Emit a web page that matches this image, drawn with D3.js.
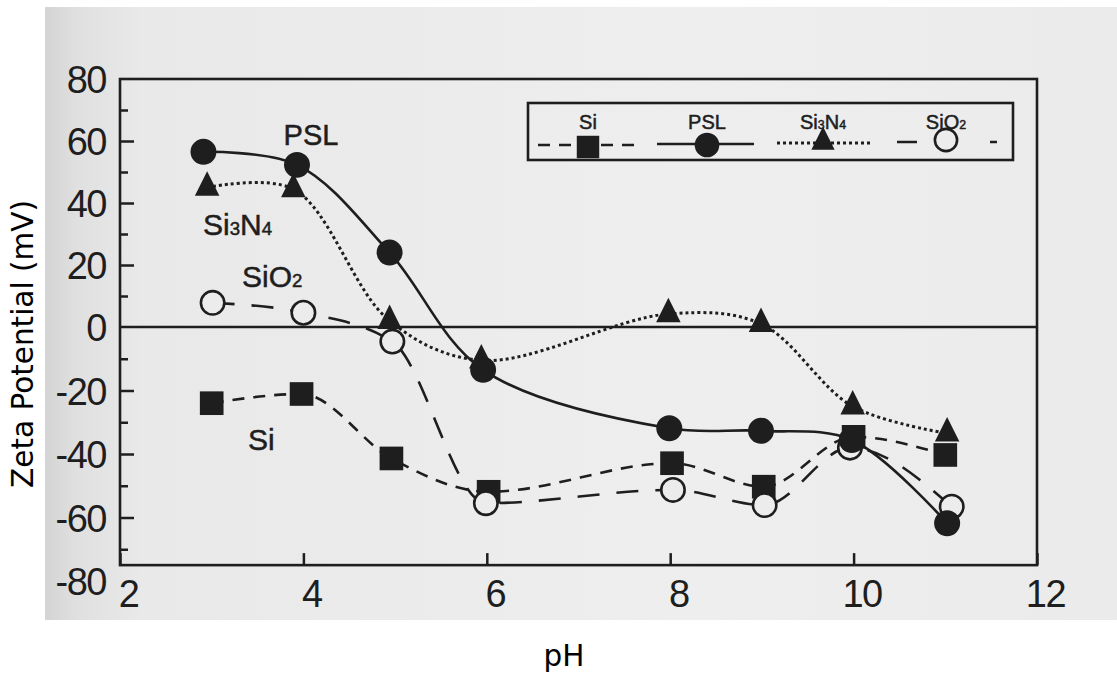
<!DOCTYPE html>
<html><head><meta charset="utf-8">
<script src="https://cdn.jsdelivr.net/npm/d3@7"></script>
<style>body{margin:0;background:#fff;} svg{display:block;}</style>
</head><body>
<svg id="chart" width="1117" height="677"></svg>
<script>
// ---------- data ----------
const xTickValues = [2, 4, 6, 8, 10, 12];
const yTickLabels = [80, 60, 40, 20, 0, -20, -40, -60, -80];
const yMajorTicks = [60, 40, 20, -20, -40, -60];
const yMinorTicks = [70, 50, 30, 10, -10, -30, -50, -70];

const seriesNames = ["Si", "PSL", "Si3N4", "SiO2"];

const phSi    = [3.00, 3.98, 4.96, 6.02, 8.02, 9.02, 10.00, 11.00];
const zetaSi  = [-24.0, -21.1, -41.4, -51.9, -42.9, -50.3, -34.6, -40.3];

const phPSL   = [2.91, 3.93, 4.94, 5.96, 7.99, 8.99, 9.98, 11.02];
const zetaPSL = [56.5, 52.3, 24.0, -13.5, -31.9, -32.7, -35.6, -61.8];

const phSi3N4   = [2.95, 3.89, 4.94, 5.94, 7.98, 8.99, 9.99, 11.02];
const zetaSi3N4 = [45.0, 44.5, 2.0, -10.5, 4.2, 1.0, -25.0, -33.5];

const phSiO2   = [3.01, 4.00, 4.97, 5.99, 8.03, 9.03, 9.96, 11.07];
const zetaSiO2 = [7.8, 4.6, -4.6, -55.5, -51.3, -56.1, -38.0, -56.6];

// ---------- setup ----------
const svg = d3.select("#chart");
const ink = "#1e1e1e";
const bg = "#ececec";

const x = d3.scaleLinear().domain([2, 12]).range([120, 1037]);
const y = d3.scaleLinear().domain([-80, 0, 80]).range([581, 327, 79]);

// scanned page background
const defs = svg.append("defs");
const grad = defs.append("linearGradient").attr("id", "scan").attr("x1", "0").attr("x2", "1").attr("y1", "0").attr("y2", "0");
grad.append("stop").attr("offset", "0%").attr("stop-color", "#d4d4d4");
grad.append("stop").attr("offset", "3%").attr("stop-color", "#e0e0e0");
grad.append("stop").attr("offset", "9%").attr("stop-color", "#e9e9e9");
grad.append("stop").attr("offset", "60%").attr("stop-color", "#eeeeee");
grad.append("stop").attr("offset", "100%").attr("stop-color", "#ebebeb");
svg.append("rect").attr("x", 45).attr("y", 7).attr("width", 1072).attr("height", 613).attr("fill", "url(#scan)");

const tickFont = "'Liberation Sans', Arial, Helvetica, sans-serif";
const fmt = d => String(d);   // plain hyphen-minus as in the original

// ---------- axes ----------
const yBottomVal = -75;
const gY = svg.append("g").attr("transform", `translate(${x(2)},0)`)
  .call(d3.axisLeft(y).tickValues(yTickLabels).tickSizeInner(0).tickSizeOuter(0).tickPadding(14).tickFormat(fmt));
gY.select(".domain").remove();
gY.selectAll("text").attr("font-family", tickFont).attr("font-size", 38).attr("letter-spacing", -1.5).attr("fill", ink).attr("dy", "0.36em");

const gYMaj = svg.append("g").attr("transform", `translate(${x(2)},0)`)
  .call(d3.axisLeft(y).tickValues(yMajorTicks).tickSizeInner(-14).tickSizeOuter(0).tickFormat(""));
gYMaj.select(".domain").remove();
gYMaj.selectAll("line").attr("stroke", ink).attr("stroke-width", 2.5);

const gYMin = svg.append("g").attr("transform", `translate(${x(2)},0)`)
  .call(d3.axisLeft(y).tickValues(yMinorTicks).tickSizeInner(-8).tickSizeOuter(0).tickFormat(""));
gYMin.select(".domain").remove();
gYMin.selectAll("line").attr("stroke", ink).attr("stroke-width", 2.5);

const gX = svg.append("g").attr("transform", `translate(0,${y(yBottomVal)})`)
  .call(d3.axisBottom(x).tickValues(xTickValues).tickSizeInner(-12).tickSizeOuter(0).tickPadding(15).tickFormat(fmt));
gX.select(".domain").remove();
gX.selectAll("line").attr("stroke", ink).attr("stroke-width", 2.5);
gX.selectAll("text").attr("font-family", tickFont).attr("font-size", 38).attr("letter-spacing", -1.5).attr("fill", ink).attr("dx", 8);

// plot frame
svg.append("rect")
  .attr("x", x(2)).attr("y", y(80))
  .attr("width", x(12) - x(2)).attr("height", y(yBottomVal) - y(80))
  .attr("fill", "none").attr("stroke", ink).attr("stroke-width", 2.6);

// zero line
svg.append("line").attr("x1", x(2)).attr("x2", x(12)).attr("y1", y(0)).attr("y2", y(0))
  .attr("stroke", ink).attr("stroke-width", 2.4);

// ---------- series ----------
const styles = {
  Si:    {dash: "12,9",  width: 2.6, curve: d3.curveMonotoneX},
  PSL:   {dash: null,    width: 2.6, curve: d3.curveCatmullRom.alpha(0.5)},
  Si3N4: {dash: "3,3",   width: 3,   curve: d3.curveCatmullRom.alpha(0.5)},
  SiO2:  {dash: "22,17", width: 2.6, curve: d3.curveMonotoneX}
};
const seriesData = {
  Si: phSi.map((p, i) => [p, zetaSi[i]]),
  PSL: phPSL.map((p, i) => [p, zetaPSL[i]]),
  Si3N4: phSi3N4.map((p, i) => [p, zetaSi3N4[i]]),
  SiO2: phSiO2.map((p, i) => [p, zetaSiO2[i]])
};

seriesNames.forEach(n => {
  const line = d3.line().x(d => x(d[0])).y(d => y(d[1])).curve(styles[n].curve);
  svg.append("path").datum(seriesData[n])
    .attr("d", line).attr("fill", "none").attr("stroke", ink)
    .attr("stroke-width", styles[n].width)
    .attr("stroke-dasharray", styles[n].dash);
});

// custom triangle (slightly taller than equilateral)
const tri = {draw(ctx, size) {
  const w = Math.sqrt(size) * 0.5, h = Math.sqrt(size);
  ctx.moveTo(0, -h * 2 / 3); ctx.lineTo(w, h / 3); ctx.lineTo(-w, h / 3); ctx.closePath();
}};
const markerSpec = {
  Si:    {type: d3.symbolSquare, size: 560, fill: ink, stroke: "none"},
  SiO2:  {type: d3.symbolCircle, size: 430, fill: bg, stroke: ink},
  PSL:   {type: d3.symbolCircle, size: 530, fill: ink, stroke: "none"},
  Si3N4: {type: tri, size: 600, fill: ink, stroke: "none"}
};
["Si", "SiO2", "PSL", "Si3N4"].forEach(n => {
  const m = markerSpec[n];
  svg.append("g").selectAll("path").data(seriesData[n]).join("path")
    .attr("d", d3.symbol(m.type, m.size))
    .attr("transform", d => `translate(${x(d[0])},${y(d[1])})`)
    .attr("fill", m.fill).attr("stroke", m.stroke).attr("stroke-width", 2.6);
});

// ---------- in-plot labels ----------
const lblFont = "'Liberation Sans', Arial, Helvetica, sans-serif";
function label(xp, yp, parts, size, anchor) {
  const t = svg.append("text").attr("x", xp).attr("y", yp)
    .attr("font-family", lblFont).attr("font-size", size).attr("fill", ink)
    .attr("stroke", ink).attr("stroke-width", 0.5)
    .attr("text-anchor", anchor || "start");
  parts.forEach(p => t.append("tspan").attr("font-size", p.sub ? size * 0.62 : size).text(p.t));
  return t;
}
label(311, 145, [{t: "PSL"}], 29, "middle");
label(203, 235, [{t: "Si"}, {t: "3", sub: 1}, {t: "N"}, {t: "4", sub: 1}], 30);
label(242, 287, [{t: "Si"}, {t: "O"}, {t: "2", sub: 1}], 30);
label(248, 450, [{t: "Si"}], 30);

// ---------- legend ----------
svg.append("rect").attr("x", 528).attr("y", 103).attr("width", 485).attr("height", 57)
  .attr("fill", "none").attr("stroke", ink).attr("stroke-width", 2.6);

const legendItems = [
  {n: "Si",    cx: 588, x1: 538, x2: 640, ly: 145, my: 147, parts: [{t: "Si"}]},
  {n: "PSL",   cx: 707, x1: 657, x2: 754, ly: 144, my: 145, parts: [{t: "PSL"}]},
  {n: "Si3N4", cx: 823, x1: 777, x2: 873, ly: 143, my: 142, parts: [{t: "Si"}, {t: "3", sub: 1}, {t: "N"}, {t: "4", sub: 1}]},
  {n: "SiO2",  cx: 946, x1: 897, x2: 997, ly: 142, my: 140, parts: [{t: "Si"}, {t: "O"}, {t: "2", sub: 1}]}
];
legendItems.forEach(it => {
  const s = styles[it.n], m = markerSpec[it.n];
  svg.append("line").attr("x1", it.x1).attr("x2", it.x2).attr("y1", it.ly).attr("y2", it.ly)
    .attr("stroke", ink).attr("stroke-width", s.width).attr("stroke-dasharray", it.n === "SiO2" ? "20,73,7" : s.dash);
  svg.append("path").attr("d", d3.symbol(m.type, m.size * 0.9))
    .attr("transform", `translate(${it.cx},${it.my})`)
    .attr("fill", m.fill).attr("stroke", m.stroke).attr("stroke-width", 2.6);
  label(it.cx, 129, it.parts, 20, "middle");
});

// ---------- axis titles ----------
const titleFont = "'DejaVu Sans', Verdana, sans-serif";
svg.append("text").attr("transform", "translate(33,344) rotate(-90)")
  .attr("text-anchor", "middle").attr("font-family", titleFont).attr("font-size", 29.5).attr("fill", "#000")
  .text("Zeta Potential (mV)");
svg.append("text").attr("x", 564).attr("y", 666)
  .attr("text-anchor", "middle").attr("font-family", titleFont).attr("font-size", 29.5).attr("fill", "#000")
  .text("pH");
</script>
</body></html>
